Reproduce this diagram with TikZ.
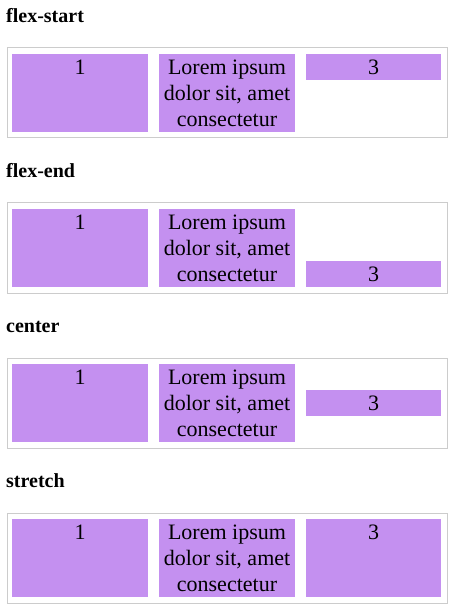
\documentclass[tikz,border=0pt]{standalone}
\usepackage{fontspec}
\setmainfont{Liberation Serif}
\definecolor{boxpurple}{HTML}{C490F0}
\definecolor{framegray}{HTML}{CCCCCC}
\tikzset{
  x=1pt, y=-1pt,
  itembox/.style={fill=boxpurple, draw=none, inner sep=0pt, anchor=north west, minimum width=136pt},
  frame/.style={draw=framegray, line width=1pt, fill=none, inner sep=0pt, anchor=north west, minimum width=440pt, minimum height=90pt},
  heading/.style={anchor=base west, inner sep=0pt, font=\fontsize{20}{24}\selectfont\bfseries},
  boxtext/.style={anchor=base, inner sep=0pt, font=\fontsize{22}{26}\selectfont},
}
\begin{document}
\begin{tikzpicture}
\useasboundingbox (0,0) rectangle (470,609);
\foreach \k/\name/\tt/\th in {0/flex-start/54/26, 1/flex-end/261/26, 2/center/390/26, 3/stretch/519/78}{
  \pgfmathsetmacro{\off}{155*\k}
  \node[heading] (h\k) at (6,22.5+\off) {\name};
  \node[frame] (c\k) at (6.5,47.5+\off) {};
  \node[itembox, minimum height=78pt] (a\k) at (12,54+\off) {};
  \node[itembox, minimum height=78pt] (b\k) at (159,54+\off) {};
  \node[itembox, minimum width=135pt, minimum height=\th pt] (d\k) at (306,\tt) {};
  \node[boxtext] (ta\k) at (80,74.3+\off) {1};
  \node[boxtext] (tb1\k) at (227,74.3+\off) {Lorem ipsum};
  \node[boxtext] (tb2\k) at (227,100.3+\off) {dolor sit, amet};
  \node[boxtext] (tb3\k) at (227,126.3+\off) {consectetur};
  \node[boxtext] (td\k) at (373.5,\tt+20.3) {3};
}
\end{tikzpicture}
\end{document}
